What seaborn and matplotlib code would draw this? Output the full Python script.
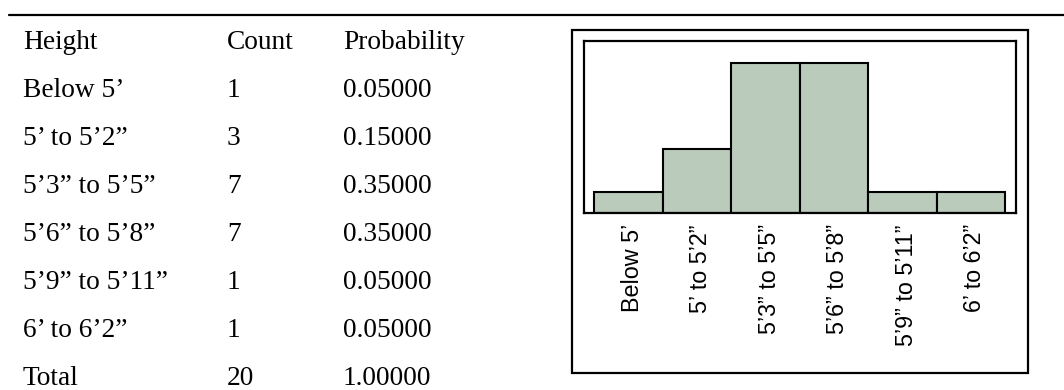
import matplotlib
matplotlib.use("Agg")
import matplotlib.pyplot as plt
from matplotlib.patches import Rectangle
from matplotlib.lines import Line2D
from matplotlib.transforms import ScaledTranslation
import seaborn as sns
import pandas as pd

# Height classes, frequencies and relative frequencies
heights = ["Below 5’", "5’ to 5’2”", "5’3” to 5’5”", "5’6” to 5’8”", "5’9” to 5’11”", "6’ to 6’2”"]
counts = [1, 3, 7, 7, 1, 1]
probabilities = [0.05, 0.15, 0.35, 0.35, 0.05, 0.05]
total_count = 20
total_probability = 1.0

column_headers = ["Height", "Count", "Probability"]

sns.set_theme(style="white")
plt.rcParams["font.family"] = ["Liberation Sans", "DejaVu Sans"]

W, H = 1064, 390
fig = plt.figure(figsize=(W / 100, H / 100), dpi=100)


def fx(px):
    return px / W


def fy(py):
    return 1 - py / H


# Rule across the top of the page
fig.add_artist(Line2D([fx(9), fx(1064)], [fy(14.5), fy(14.5)], color="black", lw=1.6))

# Frequency table on the left
serif = ["Liberation Serif", "DejaVu Serif"]
col_x = [23, 227, 343]
row_y0, row_step = 49, 48
rows = [column_headers]
for h, c, p in zip(heights, counts, probabilities):
    rows.append([h, str(c), f"{p:.5f}"])
rows.append(["Total", str(total_count), f"{total_probability:.5f}"])
for r, row in enumerate(rows):
    yb = row_y0 + r * row_step
    for cx, txt in zip(col_x, row):
        fig.text(fx(cx), fy(yb), txt, family=serif, fontsize=19.7,
                 ha="left", va="baseline", color="black")

# Histogram panel on the right
ax = fig.add_axes([fx(584), fy(213), fx(1016 - 584), (213 - 41) / H])
df = pd.DataFrame({"height": heights, "probability": probabilities})
sns.barplot(data=df, x="height", y="probability", ax=ax, width=1.0,
            color="#BACBBC", saturation=1, edgecolor="black", linewidth=1.5)
ax.set_xlim(-0.646, 5.66)
ax.set_ylim(0, 0.401)
ax.set_yticks([])
ax.set_xlabel("")
ax.set_ylabel("")
ax.tick_params(axis="x", length=0, pad=8)
ax.set_xticks(range(len(heights)))
ax.set_xticklabels(heights, rotation=90, fontsize=16.8, ha="center", va="top",
                   family=["Liberation Sans Narrow", "Liberation Sans", "DejaVu Sans"],
                   color="black")
shift = ScaledTranslation(4 / 100, 0, fig.dpi_scale_trans)
for lab in ax.get_xticklabels():
    lab.set_transform(lab.get_transform() + shift)
for s in ax.spines.values():
    s.set_visible(True)
    s.set_color("black")
    s.set_linewidth(1.6)

# Outer frame around the chart
fig.add_artist(Rectangle((fx(572), fy(373)), fx(1028 - 572), (373 - 30) / H,
                         transform=fig.transFigure, fill=False,
                         edgecolor="black", lw=1.6))

fig.savefig("out.png", dpi=100)
